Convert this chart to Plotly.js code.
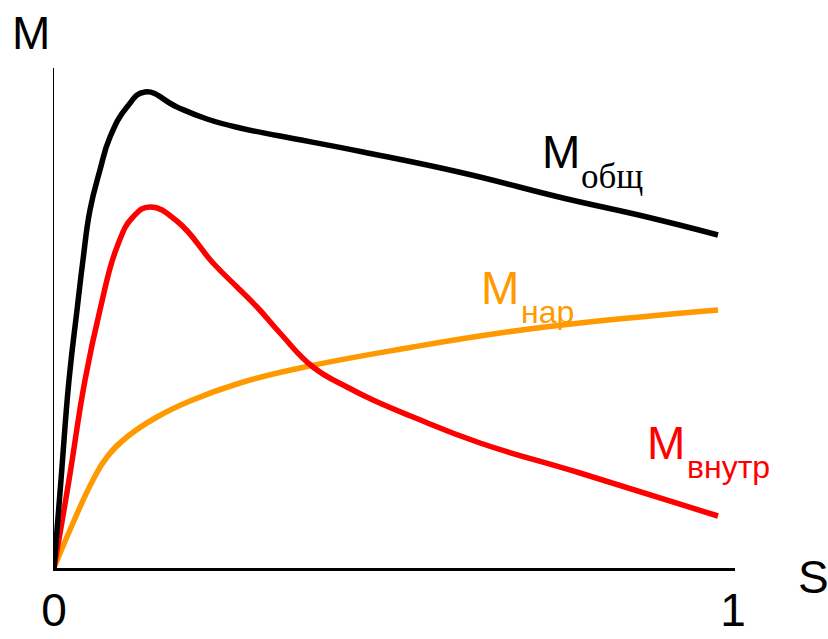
<!DOCTYPE html>
<html>
<head>
<meta charset="utf-8">
<script src="https://cdn.plot.ly/plotly-3.0.1.min.js"></script>
<style>html,body{margin:0;padding:0;background:#fff}#chart{width:828px;height:639px}</style>
</head>
<body>
<div id="chart"></div>
<script>
// Slip S (x) and torque M (y)
const sTotal = [0, 0.0103, 0.0221, 0.0339, 0.0427, 0.0530, 0.0677, 0.0825, 0.1075, 0.1340, 0.1811, 0.2253, 0.2739, 0.3328, 0.4551, 0.6024, 0.7496, 0.8733, 0.9779];
const mTotal = [0, 0.176, 0.376, 0.516, 0.616, 0.716, 0.796, 0.862, 0.922, 0.952, 0.922, 0.898, 0.880, 0.864, 0.832, 0.790, 0.740, 0.702, 0.666];

const sInner = [0, 0.0221, 0.0457, 0.0677, 0.0928, 0.1163, 0.1414, 0.1826, 0.2342, 0.2695, 0.2990, 0.3328, 0.3814, 0.4315, 0.4698, 0.5287, 0.6274, 0.7747, 0.9779];
const mInner = [0, 0.176, 0.376, 0.516, 0.642, 0.702, 0.722, 0.692, 0.610, 0.562, 0.522, 0.470, 0.402, 0.362, 0.336, 0.302, 0.250, 0.190, 0.104];

const sOuter = [0, 0.0280, 0.0574, 0.0781, 0.1075, 0.1517, 0.2003, 0.2739, 0.3623, 0.5287, 0.6568, 0.7747, 0.9779];
const mOuter = [0, 0.090, 0.176, 0.222, 0.262, 0.302, 0.334, 0.370, 0.400, 0.442, 0.470, 0.490, 0.516];

const tickVals = [0, 1];
const tickText = ['0', '1'];
const axisLabelX = 'S';
const axisLabelY = 'M';

const sans = 'Liberation Sans, Arial, sans-serif';
const serif = 'Liberation Serif, Times New Roman, serif';

function line(x, y, color) {
  return {x: x, y: y, mode: 'lines', type: 'scatter', hoverinfo: 'skip',
          line: {color: color, width: 5.5, shape: 'spline', smoothing: 1.3}};
}

const data = [
  line(sOuter, mOuter, '#ff9900'),
  line(sInner, mInner, '#ff0000'),
  line(sTotal, mTotal, '#000000')
];

// plot area: x 54..735 px, y 68..568 px
function px(x) { return (x - 54) / 681; }
function py(y) { return (568 - y) / 500; }
function ann(text, x, y, size, color, family, xanchor) {
  return {text: text, xref: 'paper', yref: 'paper', x: px(x), y: py(y),
          xanchor: xanchor || 'center', yanchor: 'middle', showarrow: false,
          font: {size: size, color: color, family: family}};
}

const layout = {
  width: 828, height: 639,
  margin: {l: 54, r: 93, t: 68, b: 71},
  paper_bgcolor: '#fff', plot_bgcolor: '#fff',
  showlegend: false,
  xaxis: {range: [0, 681/679], showgrid: false, zeroline: false,
          showline: true, linecolor: '#000', linewidth: 2.5,
          tickvals: tickVals, ticktext: tickText, ticks: '',
          tickfont: {size: 46, family: sans, color: '#000'}},
  yaxis: {range: [0, 1], showgrid: false, zeroline: false,
          showline: true, linecolor: '#000', linewidth: 1.5,
          showticklabels: false, ticks: ''},
  annotations: [
    ann(axisLabelY, 31, 33, 46, '#000', sans),
    ann(axisLabelX, 813, 577, 46, '#000', sans),
    ann('M', 561, 152, 46, '#000', sans),
    ann('общ', 579, 176, 35, '#000', serif, 'left'),
    ann('M', 500, 288, 46, '#ff9900', sans),
    ann('нар', 519, 312, 32, '#ff9900', sans, 'left'),
    ann('M', 666, 443, 46, '#ff0000', sans),
    ann('внутр', 685, 467, 32, '#ff0000', sans, 'left')
  ]
};

Plotly.newPlot('chart', data, layout, {displayModeBar: false, staticPlot: true});
</script>
</body>
</html>
